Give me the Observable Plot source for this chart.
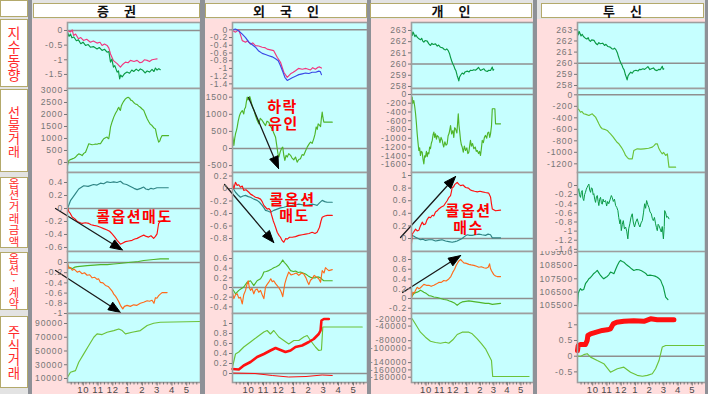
<!DOCTYPE html>
<html><head><meta charset="utf-8">
<script src="https://cdn.jsdelivr.net/npm/d3@7"></script>
<script src="https://cdn.jsdelivr.net/npm/@observablehq/plot@0.6"></script>
<style>
html,body{margin:0;padding:0;background:#e3e3e3;}
#chart{position:relative;width:708px;height:394px;overflow:hidden;background:#e3e3e3;font-family:"Noto Sans CJK KR",sans-serif;}
.abs{position:absolute;box-sizing:border-box;}
.sep{background:#8e9197;}
.hdr{background:#fff;border:1.5px solid #b3a96b;display:flex;align-items:center;justify-content:center;font-weight:700;font-size:13px;color:#111;letter-spacing:6px;padding-left:6px;line-height:1;}
.lbl{background:#fff;border:1.5px solid #b3a96b;color:#ff2a2a;display:flex;flex-direction:column;align-items:center;justify-content:center;}
.lbl p{margin:0;text-align:center;}
.pink{background:#ffdede;}
svg.panel{position:absolute;}
</style></head>
<body><div id="chart"></div>
<script>
// ---------- text ----------
const MONTHS = ["10","11","12","1","2","3","4","5"];
const COLUMN_TITLES = ["증 권","외 국 인","개 인","투 신"];
const ROW_TITLES = ["지수동향","선물거래","옵션거래금액","옵션·계약","주식거래"];

// ---------- tick values ----------
const T_c1r1 = [0,-0.5,-1,-1.5];
const T_c1r2 = [0,500,1000,1500,2000,2500,3000];
const T_c1r3 = [0.4,0.2,0,-0.2,-0.4,-0.6];
const T_c1r4 = [0,-0.2,-0.4,-0.6,-0.8,-1];
const T_c1r5 = [10000,30000,50000,70000,90000];
const T_c2r1 = [0,-0.2,-0.4,-0.6,-0.8,-1,-1.2,-1.4];
const T_c2r2 = [-500,0,500,1000,1500];
const T_c2r3 = [0.2,0,-0.2,-0.4,-0.6,-0.8];
const T_c2r4 = [-0.4,-0.2,0,0.2,0.4,0.6];
const T_c2r5 = [0,0.2,0.4,0.6,0.8,1];
const T_idx = [258,259,260,261,262,263];
const T_c3r2 = [0,-200,-400,-600,-800,-1000,-1200,-1400,-1600];
const T_c3r3 = [0,0.2,0.4,0.6,0.8,1];
const T_c3r4 = [-0.2,0,0.2,0.4,0.6,0.8];
const T_c3r5 = [-20000,-40000,-80000,-100000,-140000,-160000,-180000];
const T_c4r2 = [0,-200,-400,-600,-800,-1000,-1200];
const T_c4r3 = [0,-0.2,-0.4,-0.6,-0.8,-1,-1.2,-1.4];
const T_c4r4 = [105500,106500,107500,108500,109500];
const T_c4r5 = [-0.5,0,0.5,1];

// ---------- series: [month since Sep 1, value] ----------
// 증권
const secIdxPink = [[0,0],[0.2,-0.05],[0.32,0.02],[0.41,-0.17],[0.55,-0.12],[0.74,-0.28],[0.9,-0.24],[1.08,-0.34],[1.3,-0.3],[1.55,-0.4],[1.75,-0.36],[2.0,-0.43],[2.2,-0.4],[2.34,-0.51],[2.5,-0.46],[2.68,-0.51],[2.8,-0.6],[2.91,-0.8],[3.11,-1.03],[3.36,-1.13],[3.58,-1.25],[3.75,-1.15],[3.92,-1.08],[4.1,-1.1],[4.26,-1.02],[4.5,-1.06],[4.71,-1.02],[4.9,-1.1],[5.05,-1.08],[5.2,-1.0],[5.39,-1.02],[5.55,-1.06],[5.72,-1.0],[5.9,-0.98],[6.06,-0.97]];
const secIdxGreen = [[0,-0.05],[0.1,-0.2],[0.2,-0.12],[0.3,-0.25],[0.43,-0.22],[0.6,-0.35],[0.74,-0.32],[0.9,-0.45],[1.05,-0.4],[1.22,-0.51],[1.4,-0.48],[1.55,-0.57],[1.75,-0.55],[2.0,-0.63],[2.15,-0.58],[2.34,-0.68],[2.5,-0.64],[2.68,-0.74],[2.8,-0.72],[2.91,-1.08],[3.0,-0.98],[3.11,-1.25],[3.2,-1.2],[3.36,-1.42],[3.45,-1.38],[3.53,-1.65],[3.6,-1.52],[3.7,-1.58],[3.85,-1.48],[4.03,-1.42],[4.2,-1.46],[4.35,-1.35],[4.48,-1.4],[4.65,-1.32],[4.8,-1.38],[4.93,-1.31],[5.1,-1.36],[5.25,-1.45],[5.39,-1.38],[5.55,-1.42],[5.72,-1.33],[5.85,-1.4],[5.95,-1.28],[6.06,-1.35],[6.18,-1.3],[6.28,-1.34]];
const secFutures = [[0,-125],[0.05,0],[0.09,83],[0.2,120],[0.32,150],[0.43,180],[0.54,220],[0.65,300],[0.76,360],[0.88,330],[0.99,290],[1.1,380],[1.22,430],[1.33,600],[1.44,780],[1.55,760],[1.66,740],[1.78,750],[1.9,770],[2.0,760],[2.12,790],[2.23,780],[2.35,900],[2.45,990],[2.57,1030],[2.68,1060],[2.75,1000],[2.79,990],[2.85,1200],[2.91,1470],[3.02,1700],[3.13,1890],[3.25,2050],[3.36,2170],[3.42,2260],[3.47,2300],[3.53,2200],[3.58,2170],[3.64,2350],[3.7,2440],[3.8,2550],[3.92,2650],[4.0,2690],[4.1,2720],[4.2,2680],[4.28,2600],[4.37,2580],[4.48,2500],[4.59,2440],[4.7,2420],[4.82,2350],[4.93,2300],[5.05,2230],[5.16,2170],[5.27,2000],[5.39,1820],[5.5,1700],[5.6,1600],[5.72,1540],[5.83,1450],[5.95,1400],[6.05,1100],[6.17,850],[6.25,900],[6.3,1000],[6.4,1120],[6.84,1120]];
const secOptTeal = [[0,0],[0.2,0.12],[0.54,0.23],[0.76,0.3],[1.1,0.35],[1.4,0.34],[1.76,0.37],[2.0,0.36],[2.23,0.39],[2.45,0.38],[2.68,0.41],[2.9,0.4],[3.13,0.41],[3.35,0.4],[3.58,0.42],[3.78,0.38],[4.0,0.37],[4.26,0.34],[4.5,0.31],[4.71,0.29],[4.95,0.31],[5.16,0.33],[5.3,0.3],[5.47,0.29],[5.65,0.31],[5.81,0.3],[6.05,0.32],[6.28,0.32],[6.82,0.32]];
const secOptRed = [[0,0.02],[0.09,-0.05],[0.2,-0.08],[0.32,-0.13],[0.5,-0.16],[0.66,-0.2],[0.99,-0.23],[1.2,-0.22],[1.44,-0.23],[1.6,-0.25],[1.78,-0.26],[2.0,-0.27],[2.23,-0.29],[2.45,-0.31],[2.68,-0.33],[2.85,-0.35],[3.02,-0.39],[3.2,-0.44],[3.36,-0.49],[3.58,-0.55],[3.75,-0.53],[3.92,-0.51],[4.15,-0.5],[4.37,-0.49],[4.55,-0.47],[4.71,-0.46],[4.95,-0.43],[5.16,-0.41],[5.33,-0.43],[5.49,-0.44],[5.65,-0.42],[5.83,-0.46],[5.95,-0.43],[6.06,-0.39],[6.12,-0.3],[6.17,-0.23],[6.28,-0.2],[6.51,-0.18],[6.74,-0.2]];
const secCntGreen = [[0,-0.06],[0.15,-0.1],[0.32,-0.12],[0.5,-0.09],[0.66,-0.08],[1.0,-0.07],[1.33,-0.06],[1.8,-0.05],[2.23,-0.04],[2.7,-0.04],[3.13,-0.03],[3.5,-0.02],[3.8,-0.01],[4.1,0.0],[4.48,0.01],[4.8,0.02],[5.16,0.04],[5.5,0.05],[5.83,0.06],[6.28,0.07],[6.84,0.07]];
const secCntOrange = [[0,0],[0.09,-0.12],[0.2,-0.1],[0.32,-0.15],[0.45,-0.13],[0.66,-0.19],[0.8,-0.17],[0.99,-0.22],[1.15,-0.2],[1.33,-0.25],[1.5,-0.24],[1.67,-0.3],[1.85,-0.29],[2.0,-0.33],[2.1,-0.32],[2.23,-0.39],[2.4,-0.4],[2.57,-0.45],[2.75,-0.47],[2.91,-0.52],[3.02,-0.56],[3.13,-0.62],[3.25,-0.66],[3.36,-0.71],[3.47,-0.77],[3.58,-0.84],[3.74,-0.91],[3.85,-0.86],[4.03,-0.84],[4.25,-0.86],[4.48,-0.83],[4.7,-0.84],[4.93,-0.8],[5.15,-0.78],[5.39,-0.75],[5.55,-0.76],[5.72,-0.74],[5.85,-0.8],[5.95,-0.69],[6.05,-0.7],[6.17,-0.65],[6.28,-0.62],[6.4,-0.59],[6.74,-0.59]];
const secStock = [[0,11800],[0.2,19100],[0.54,21500],[0.76,33600],[1.1,45800],[1.44,57900],[1.78,70000],[2.0,74900],[2.34,73900],[2.68,77200],[3.13,79700],[3.47,82100],[3.7,79700],[3.92,74900],[4.37,77200],[4.93,79700],[5.39,87000],[5.83,90400],[6.28,91800],[8.99,92900]];
// 외국인
const forIdxPink = [[0,-0.02],[0.2,-0.06],[0.42,0],[0.55,-0.15],[0.65,-0.28],[0.87,-0.32],[1.0,-0.28],[1.2,-0.37],[1.35,-0.34],[1.53,-0.41],[1.75,-0.42],[1.98,-0.45],[2.15,-0.46],[2.31,-0.5],[2.53,-0.52],[2.75,-0.54],[2.98,-0.71],[3.2,-0.84],[3.42,-1.1],[3.65,-1.23],[3.87,-1.14],[4.05,-1.1],[4.2,-1.06],[4.4,-1.0],[4.65,-1.02],[4.9,-1.0],[5.2,-1.04],[5.35,-0.98],[5.53,-1.02],[5.7,-0.97],[5.8,-0.96],[5.93,-0.99]];
const forIdxBlue = [[0,0],[0.2,0.02],[0.42,-0.03],[0.65,-0.11],[0.87,-0.2],[1.09,-0.32],[1.3,-0.38],[1.53,-0.45],[1.75,-0.55],[1.98,-0.61],[2.2,-0.64],[2.42,-0.67],[2.65,-0.7],[2.87,-0.75],[3.05,-0.8],[3.2,-0.93],[3.35,-1.08],[3.49,-1.23],[3.65,-1.31],[3.8,-1.28],[3.98,-1.24],[4.2,-1.2],[4.42,-1.16],[4.65,-1.14],[4.87,-1.12],[5.1,-1.13],[5.31,-1.1],[5.55,-1.1],[5.75,-1.07],[5.85,-1.08],[5.93,-1.16]];
const forFutures = [[0,380],[0.05,250],[0.09,88],[0.15,300],[0.2,430],[0.26,520],[0.31,620],[0.38,800],[0.47,965],[0.55,1050],[0.65,1110],[0.7,1060],[0.75,1010],[0.8,1150],[0.87,1205],[0.92,1350],[0.98,1500],[1.03,1420],[1.09,1450],[1.15,1520],[1.2,1450],[1.27,1320],[1.35,1205],[1.45,1100],[1.53,965],[1.62,850],[1.75,720],[1.85,880],[1.98,820],[2.08,750],[2.2,670],[2.3,800],[2.42,770],[2.52,650],[2.65,575],[2.75,450],[2.87,330],[2.93,150],[2.98,0],[3.03,-150],[3.09,-250],[3.18,-100],[3.27,0],[3.35,40],[3.42,-200],[3.49,-350],[3.57,-200],[3.65,-250],[3.75,-150],[3.87,-200],[3.97,-280],[4.09,-330],[4.2,-250],[4.31,-400],[4.42,-320],[4.53,-300],[4.64,-180],[4.75,-200],[4.86,-80],[4.98,40],[5.09,120],[5.2,190],[5.31,150],[5.42,290],[5.5,420],[5.58,630],[5.65,560],[5.71,720],[5.8,680],[5.87,640],[5.93,900],[5.98,1065],[6.03,900],[6.09,770],[6.31,770],[6.65,770]];
const forOptRed = [[0,0.08],[0.09,0],[0.2,0.1],[0.31,0.05],[0.42,0.06],[0.53,0.02],[0.65,0.04],[0.75,-0.03],[0.9,-0.02],[1.09,-0.06],[1.2,-0.09],[1.35,-0.11],[1.53,-0.14],[1.7,-0.15],[1.87,-0.17],[1.98,-0.21],[2.09,-0.27],[2.2,-0.3],[2.31,-0.33],[2.42,-0.32],[2.53,-0.35],[2.6,-0.42],[2.65,-0.46],[2.72,-0.52],[2.8,-0.57],[2.9,-0.64],[2.98,-0.7],[3.1,-0.75],[3.2,-0.78],[3.3,-0.83],[3.42,-0.86],[3.55,-0.8],[3.65,-0.81],[3.8,-0.78],[3.98,-0.78],[4.2,-0.77],[4.42,-0.75],[4.65,-0.74],[4.87,-0.73],[5.1,-0.72],[5.31,-0.7],[5.5,-0.72],[5.64,-0.7],[5.72,-0.66],[5.8,-0.62],[5.9,-0.52],[5.98,-0.46],[6.15,-0.44],[6.31,-0.43],[6.65,-0.43]];
const forOptTeal = [[0,0.02],[0.1,-0.02],[0.2,-0.06],[0.35,-0.1],[0.53,-0.14],[0.7,-0.12],[0.87,-0.11],[1.05,-0.13],[1.2,-0.14],[1.42,-0.17],[1.64,-0.19],[1.8,-0.22],[1.98,-0.27],[2.1,-0.31],[2.2,-0.35],[2.35,-0.36],[2.53,-0.38],[2.75,-0.35],[2.98,-0.33],[3.2,-0.31],[3.42,-0.3],[3.7,-0.28],[3.98,-0.27],[4.2,-0.26],[4.42,-0.25],[4.65,-0.26],[4.87,-0.27],[5.1,-0.26],[5.31,-0.25],[5.5,-0.26],[5.64,-0.27],[5.8,-0.23],[5.98,-0.19],[6.15,-0.21],[6.31,-0.22],[6.65,-0.22]];
const forCntGreen = [[0,-0.03],[0.2,-0.13],[0.42,-0.06],[0.6,-0.02],[0.75,0.01],[0.98,0.11],[1.2,0.14],[1.42,0.04],[1.64,0.14],[1.87,0.18],[2.0,0.25],[2.09,0.32],[2.25,0.33],[2.42,0.35],[2.6,0.38],[2.75,0.41],[2.92,0.43],[3.09,0.46],[3.25,0.52],[3.35,0.57],[3.45,0.52],[3.58,0.48],[3.72,0.42],[3.87,0.35],[4.05,0.33],[4.2,0.34],[4.38,0.31],[4.53,0.32],[4.7,0.3],[4.87,0.28],[5.05,0.24],[5.2,0.21],[5.38,0.2],[5.53,0.2],[5.7,0.22],[5.87,0.2],[6.0,0.16],[6.09,0.14],[6.65,0.14]];
const forCntOrange = [[0,-0.1],[0.09,-0.23],[0.2,-0.15],[0.31,-0.13],[0.42,-0.22],[0.53,-0.2],[0.6,-0.28],[0.65,-0.34],[0.75,-0.15],[0.87,-0.06],[0.95,0.05],[1.05,0.14],[1.12,0.0],[1.2,-0.06],[1.3,-0.02],[1.42,-0.13],[1.52,-0.05],[1.64,-0.03],[1.75,-0.1],[1.87,-0.06],[1.98,-0.15],[2.09,-0.23],[2.15,-0.1],[2.2,0.01],[2.3,0.06],[2.42,0.11],[2.55,0.18],[2.65,0.12],[2.75,0.14],[2.87,0.08],[2.98,0.04],[3.08,0.0],[3.2,-0.06],[3.28,-0.12],[3.35,-0.19],[3.42,-0.05],[3.49,0.08],[3.6,0.2],[3.75,0.32],[3.9,0.26],[4.09,0.28],[4.25,0.3],[4.42,0.25],[4.6,0.3],[4.75,0.28],[4.9,0.2],[5.0,0.12],[5.09,0.06],[5.2,0.15],[5.31,0.18],[5.45,0.25],[5.64,0.21],[5.75,0.18],[5.87,0.11],[5.98,0.35],[6.1,0.3],[6.2,0.41],[6.3,0.38],[6.42,0.35],[6.65,0.37]];
const forStockRed = [[0,0.09],[0.42,0.08],[0.75,0.16],[1.2,0.23],[1.64,0.33],[2.09,0.39],[2.53,0.46],[2.87,0.51],[3.2,0.47],[3.53,0.43],[3.87,0.46],[4.2,0.53],[4.64,0.56],[5.09,0.63],[5.42,0.69],[5.75,0.79],[5.87,0.86],[5.93,1.06],[6.09,1.09],[6.42,1.09]];
const forStockGreen = [[0,0.13],[0.2,0.39],[0.42,0.43],[0.75,0.53],[1.2,0.63],[1.64,0.73],[2.09,0.83],[2.31,0.86],[2.53,0.79],[2.75,0.86],[3.09,0.73],[3.42,0.66],[3.75,0.59],[4.09,0.66],[4.42,0.66],[4.75,0.73],[4.98,0.76],[5.2,0.66],[5.53,0.53],[5.75,0.46],[5.93,0.47],[6.02,0.93],[8.65,0.93]];
const forStockThin = [[0,0.01],[1.5,0],[2.65,-0.04],[3.75,-0.07],[4.9,-0.06],[5.98,-0.03],[6.65,-0.04]];
// 개인 / 투신 index
const kospi200 = [[0,263],[0.05,262.55],[0.12,262.85],[0.17,262.7],[0.25,262.45],[0.33,262.6],[0.42,262.4],[0.55,262.25],[0.66,262.17],[0.75,262.3],[0.83,262.05],[0.91,261.96],[1.0,262.1],[1.16,262.05],[1.28,261.8],[1.4,261.66],[1.5,261.85],[1.6,261.75],[1.77,261.8],[1.9,261.6],[2.0,261.7],[2.14,261.5],[2.3,261.45],[2.42,261.3],[2.51,261.27],[2.6,261.35],[2.71,261.2],[2.8,260.95],[2.88,260.6],[2.96,260.3],[3.05,260.0],[3.12,259.85],[3.2,259.57],[3.28,259.4],[3.37,258.96],[3.43,258.75],[3.49,258.5],[3.55,258.85],[3.62,259.0],[3.74,259.2],[3.85,259.1],[3.95,259.3],[4.11,259.37],[4.25,259.3],[4.35,259.45],[4.48,259.43],[4.6,259.5],[4.72,259.45],[4.85,259.58],[4.95,259.7],[5.09,259.43],[5.2,259.5],[5.34,259.58],[5.45,259.4],[5.59,259.34],[5.7,259.45],[5.83,259.43],[5.9,259.6],[5.96,259.73],[6.02,259.45],[6.07,259.5]];
// 개인
const indFutures = [[0,-366],[0.05,-60],[0.1,-200],[0.17,-137],[0.24,-280],[0.3,-440],[0.36,-650],[0.42,-900],[0.48,-1100],[0.54,-1280],[0.6,-1220],[0.66,-1395],[0.72,-1300],[0.79,-1320],[0.85,-1480],[0.91,-1585],[0.97,-1400],[1.03,-1430],[1.1,-1300],[1.16,-1420],[1.22,-1330],[1.28,-1355],[1.34,-1200],[1.4,-1240],[1.46,-1120],[1.53,-1050],[1.59,-920],[1.65,-860],[1.71,-980],[1.77,-900],[1.84,-1020],[1.9,-940],[2.01,-975],[2.1,-1100],[2.18,-980],[2.27,-1050],[2.33,-1150],[2.38,-1200],[2.46,-1080],[2.55,-1160],[2.63,-1130],[2.7,-950],[2.78,-880],[2.88,-710],[2.96,-900],[3.05,-825],[3.12,-980],[3.18,-760],[3.25,-785],[3.35,-880],[3.45,-440],[3.5,-700],[3.56,-860],[3.62,-1050],[3.68,-1150],[3.74,-1200],[3.82,-1320],[3.9,-1180],[3.99,-1280],[4.08,-1220],[4.16,-1350],[4.23,-1320],[4.3,-1150],[4.35,-1050],[4.42,-1180],[4.5,-1120],[4.6,-1240],[4.7,-1200],[4.78,-1300],[4.85,-1280],[4.95,-1350],[5.02,-1300],[5.09,-1395],[5.15,-1250],[5.22,-1050],[5.3,-1100],[5.38,-980],[5.46,-935],[5.55,-1000],[5.62,-880],[5.7,-860],[5.77,-980],[5.83,-900],[5.9,-720],[5.96,-325],[6.15,-325],[6.2,-670],[6.57,-670]];
const indOptRed = [[0,-0.08],[0.05,0.07],[0.15,0.1],[0.3,0.15],[0.42,0.12],[0.54,0.13],[0.66,0.2],[0.79,0.26],[0.9,0.22],[1.03,0.23],[1.15,0.3],[1.28,0.34],[1.4,0.33],[1.53,0.37],[1.65,0.36],[1.77,0.42],[1.9,0.44],[2.01,0.47],[2.2,0.5],[2.38,0.52],[2.5,0.56],[2.63,0.6],[2.75,0.65],[2.88,0.68],[2.95,0.75],[3.0,0.81],[3.1,0.82],[3.2,0.86],[3.37,0.89],[3.5,0.86],[3.62,0.84],[3.8,0.85],[3.99,0.81],[4.2,0.8],[4.35,0.77],[4.48,0.76],[4.65,0.75],[4.85,0.74],[5.05,0.75],[5.24,0.74],[5.45,0.73],[5.7,0.72],[5.83,0.66],[5.9,0.55],[5.96,0.47],[6.2,0.44],[6.57,0.45]];
const indOptTeal = [[0,0.05],[0.15,0.04],[0.3,0.02],[0.5,0.0],[0.66,-0.02],[0.85,-0.01],[1.03,-0.03],[1.28,-0.02],[1.53,-0.02],[1.77,-0.04],[2.01,-0.03],[2.25,-0.02],[2.51,-0.04],[2.75,-0.05],[3.0,-0.06],[3.2,-0.05],[3.37,-0.04],[3.55,-0.02],[3.74,0.0],[3.9,0.03],[4.11,0.06],[4.3,0.05],[4.48,0.05],[4.7,0.06],[4.97,0.07],[5.2,0.06],[5.46,0.05],[5.65,0.07],[5.83,0.06],[5.96,0.01],[6.57,0.01]];
const indCntOrange = [[0,0.0],[0.1,0.13],[0.2,0.11],[0.3,0.17],[0.42,0.23],[0.55,0.2],[0.66,0.22],[0.8,0.26],[0.91,0.29],[1.1,0.27],[1.28,0.27],[1.45,0.25],[1.65,0.27],[1.85,0.3],[2.01,0.33],[2.2,0.33],[2.38,0.37],[2.55,0.36],[2.75,0.4],[2.9,0.45],[3.05,0.54],[3.18,0.6],[3.3,0.68],[3.4,0.73],[3.49,0.77],[3.62,0.8],[3.75,0.76],[3.86,0.73],[4.05,0.72],[4.23,0.7],[4.4,0.69],[4.6,0.68],[4.8,0.66],[4.97,0.64],[5.15,0.65],[5.34,0.63],[5.5,0.62],[5.66,0.64],[5.76,0.71],[5.82,0.62],[5.9,0.57],[6.07,0.49],[6.2,0.46],[6.32,0.45],[6.57,0.45]];
const indCntGreen = [[0,0.03],[0.17,0.1],[0.3,0.12],[0.42,0.13],[0.55,0.15],[0.66,0.17],[0.8,0.15],[0.91,0.13],[1.1,0.1],[1.28,0.06],[1.45,0.05],[1.65,0.03],[1.9,0.02],[2.14,0.0],[2.4,-0.02],[2.63,-0.03],[2.8,-0.05],[3.0,-0.07],[3.2,-0.1],[3.37,-0.14],[3.55,-0.1],[3.74,-0.07],[4.0,-0.06],[4.23,-0.05],[4.48,-0.06],[4.72,-0.07],[5.0,-0.08],[5.22,-0.09],[5.45,-0.1],[5.7,-0.1],[5.96,-0.12],[6.57,-0.1]];
const indStock = [[0.05,-20000],[0.3,-35000],[0.66,-56700],[1.03,-70400],[1.4,-81400],[1.77,-85000],[2.14,-86900],[2.51,-84100],[2.75,-86900],[3.05,-77500],[3.37,-63000],[3.74,-56700],[4.23,-56700],[4.48,-61100],[4.85,-74800],[5.17,-88500],[5.46,-102200],[5.71,-120600],[5.9,-134300],[5.99,-178100],[8.67,-178100]];
// 투신
const invFutures = [[0,-12],[0.02,-243],[0.1,-260],[0.21,-302],[0.3,-290],[0.44,-330],[0.6,-340],[0.8,-360],[0.9,-345],[1.04,-330],[1.15,-360],[1.27,-388],[1.4,-450],[1.5,-504],[1.62,-560],[1.74,-590],[1.9,-600],[2.09,-620],[2.2,-650],[2.32,-678],[2.5,-730],[2.68,-793],[2.8,-830],[2.91,-852],[3.05,-900],[3.15,-939],[3.28,-1000],[3.38,-1055],[3.5,-1090],[3.61,-1113],[3.85,-1113],[3.96,-968],[4.2,-939],[4.45,-945],[4.67,-939],[5.0,-930],[5.26,-910],[5.4,-880],[5.49,-852],[5.61,-852],[5.73,-939],[5.85,-990],[5.96,-1026],[6.05,-1000],[6.2,-1055],[6.32,-1026],[6.43,-1258],[6.9,-1258]];
const invOpt = [[0,-0.18],[0.04,-0.1],[0.09,-0.07],[0.14,-0.2],[0.21,-0.26],[0.27,-0.15],[0.33,-0.11],[0.38,-0.28],[0.44,-0.33],[0.5,-0.2],[0.56,-0.15],[0.62,-0.08],[0.68,-0.04],[0.74,0.0],[0.8,0.03],[0.86,-0.1],[0.92,-0.15],[0.98,-0.05],[1.04,-0.07],[1.1,-0.2],[1.15,-0.18],[1.21,-0.3],[1.27,-0.37],[1.33,-0.25],[1.39,-0.22],[1.45,-0.35],[1.5,-0.44],[1.56,-0.3],[1.62,-0.26],[1.68,-0.38],[1.74,-0.41],[1.8,-0.3],[1.86,-0.36],[1.97,-0.33],[2.05,-0.45],[2.12,-0.35],[2.2,-0.4],[2.3,-0.3],[2.38,-0.22],[2.44,-0.26],[2.52,-0.35],[2.6,-0.3],[2.68,-0.44],[2.76,-0.48],[2.84,-0.55],[2.9,-0.7],[2.98,-0.84],[3.03,-0.75],[3.08,-0.99],[3.15,-0.85],[3.22,-0.77],[3.3,-0.95],[3.38,-0.91],[3.46,-1.0],[3.54,-1.17],[3.6,-0.95],[3.68,-0.84],[3.76,-0.7],[3.85,-0.62],[3.92,-0.8],[4.01,-0.91],[4.1,-0.8],[4.2,-0.73],[4.3,-0.85],[4.39,-0.91],[4.47,-0.82],[4.56,-0.77],[4.64,-0.6],[4.72,-0.4],[4.79,-0.5],[4.86,-0.33],[4.94,-0.42],[5.02,-0.48],[5.1,-0.58],[5.19,-0.62],[5.26,-0.72],[5.33,-0.77],[5.41,-0.7],[5.49,-0.84],[5.55,-0.92],[5.61,-0.99],[5.67,-0.85],[5.73,-0.88],[5.81,-0.95],[5.89,-1.02],[5.96,-0.9],[6.04,-1.17],[6.1,-0.9],[6.13,-0.55],[6.2,-0.6],[6.27,-0.7],[6.35,-0.68],[6.43,-0.73]];
const invCnt = [[0,105380],[0.05,106380],[0.12,106600],[0.21,106760],[0.3,106650],[0.44,106700],[0.56,107130],[0.68,107300],[0.8,107500],[0.92,107600],[1.04,107750],[1.15,107900],[1.27,108000],[1.39,108130],[1.5,107950],[1.62,107750],[1.74,107600],[1.85,107500],[1.97,107600],[2.09,107680],[2.2,107800],[2.32,108000],[2.44,107950],[2.56,107880],[2.68,108200],[2.8,108500],[2.92,108750],[3.03,108880],[3.15,108800],[3.26,108750],[3.45,108550],[3.61,108430],[3.8,108250],[3.96,108130],[4.15,108200],[4.32,108180],[4.5,108100],[4.67,108000],[4.8,107900],[4.91,107750],[5.1,107780],[5.26,107750],[5.45,107700],[5.61,107620],[5.75,107500],[5.85,107380],[5.95,107100],[6.04,106880],[6.12,106500],[6.2,106130],[6.36,105940]];
const invStockRed = [[0,0.18],[0.05,0.34],[0.21,0.37],[0.56,0.37],[0.68,0.5],[0.73,0.66],[0.92,0.71],[1.27,0.76],[1.74,0.82],[2.09,0.84],[2.32,0.87],[2.51,1.03],[2.75,1.08],[3.26,1.11],[3.96,1.13],[4.67,1.11],[5.14,1.19],[5.61,1.16],[6.78,1.16]];
const invStockGreen = [[0,0],[0.21,-0.01],[0.44,0.05],[0.68,0.08],[0.92,-0.03],[1.39,-0.14],[1.85,-0.24],[2.32,-0.51],[2.8,-0.4],[3.26,-0.35],[3.73,-0.51],[4.2,-0.61],[4.56,-0.64],[4.91,-0.61],[5.26,-0.56],[5.49,-0.4],[5.73,-0.14],[5.96,0.29],[6.2,0.34],[8.9,0.34]];

// ---------- annotations (data units of their panel) ----------
const NOTE_c1r3 = [{t:"콜옵션매도", x:4.53, y:-0.14}];
const ARROW_c1r3 = [[-0.81,0,3.72,-0.64]];
const ARROW_c1r4 = [[-0.81,-0.157,3.58,-0.98]];
const NOTE_c2r2 = [{t:"하락", x:3.33, y:1199},{t:"유인", x:3.4, y:702}];
const ARROW_c2r2 = [[1.07,1491,3.07,-585]];
const NOTE_c2r3 = [{t:"콜옵션", x:4.0, y:-0.19},{t:"매도", x:4.13, y:-0.45}];
const ARROW_c2r3 = [[-0.53,0.064,2.75,-0.864]];
const NOTE_c3r3 = [{t:"콜옵션", x:4.21, y:0.43},{t:"매수", x:4.21, y:0.16}];
const ARROW_c3r3 = [[-0.81,0.016,3.25,0.984]];
const ARROW_c3r4 = [[-0.66,0.123,3.62,0.88]];

// ---------- colours ----------
const PINK="#f2367e", GREEN_DK="#0a9a45", GREEN="#4fb52a", GREEN_LT="#6cc23a", TEAL="#2f8585", RED="#ff1010", ORANGE="#ff6a1a", BLUE="#3a48e6";

// ---------- layout ----------
const COLS = [{x0:32,px:67,x1:200,h:[33,200]},{x0:205,px:232,x1:367,h:[205,367]},{x0:371,px:411,x1:533,h:[370,532]},{x0:537,px:577,x1:705,h:[541,704]}];
const ROWS = [[22,88],[88,172],[172,251],[251,313],[313,382]];
// [top, bottom, font size, line height] of the row-title boxes
const LABEL_BOXES = [[19,87,14,14],[89,172,13,13],[177,248,11.5,11.6],[252,310,11.2,11.3],[316,388,13.4,13.5]];

const PANELS = [
 // col 1
 [{dom:[-1.98,0.273],ticks:T_c1r1,ref:0,s:[[secIdxPink,PINK],[secIdxGreen,GREEN_DK]]},
  {dom:[-417,3083],ticks:T_c1r2,ref:0,s:[[secFutures,GREEN]]},
  {dom:[-0.662,0.554],ticks:T_c1r3,ref:0,s:[[secOptTeal,TEAL],[secOptRed,RED]],notes:NOTE_c1r3,arrows:ARROW_c1r3},
  {dom:[-1.0,0.216],ticks:T_c1r4,ref:0,s:[[secCntGreen,GREEN],[secCntOrange,ORANGE]],arrows:ARROW_c1r4},
  {dom:[4180,104545],ticks:T_c1r5,s:[[secStock,GREEN_LT]]}],
 // col 2
 [{dom:[-1.52,0.19],ticks:T_c2r1,ref:0,s:[[forIdxPink,PINK],[forIdxBlue,BLUE]]},
  {dom:[-702,1754],ticks:T_c2r2,ref:0,s:[[forFutures,GREEN]],notes:NOTE_c2r2,arrows:ARROW_c2r2},
  {dom:[-1.008,0.256],ticks:T_c2r3,ref:0,s:[[forOptTeal,TEAL],[forOptRed,RED]],notes:NOTE_c2r3,arrows:ARROW_c2r3},
  {dom:[-0.538,0.745],ticks:T_c2r4,ref:0,s:[[forCntGreen,GREEN],[forCntOrange,ORANGE]]},
  {dom:[-0.18,1.2],ticks:T_c2r5,ref:0,s:[[forStockThin,RED,1],[forStockGreen,GREEN_LT],[forStockRed,RED,2.6]]}],
 // col 3
 [{dom:[257.82,263.71],ticks:T_idx,ref:260,s:[[kospi200,GREEN_DK]]},
  {dom:[-1783,137],ticks:T_c3r2,ref:0,s:[[indFutures,GREEN]]},
  {dom:[-0.206,1.048],ticks:T_c3r3,ref:0,s:[[indOptTeal,TEAL],[indOptRed,RED]],notes:NOTE_c3r3,arrows:ARROW_c3r3},
  {dom:[-0.308,0.964],ticks:T_c3r4,ref:0,s:[[indCntGreen,GREEN],[indCntOrange,ORANGE]],arrows:ARROW_c3r4},
  {dom:[-194500,-5480],ticks:T_c3r5,s:[[indStock,GREEN_LT]]}],
 // col 4
 [{dom:[257.73,263.66],ticks:T_idx,ref:260,s:[[kospi200,GREEN_DK]]},
  {dom:[-1351,110],ticks:T_c4r2,ref:0,s:[[invFutures,GREEN_LT]]},
  {dom:[-1.447,0.285],ticks:T_c4r3,s:[[invOpt,GREEN_DK,1]]},
  {dom:[104890,109553],ticks:T_c4r4,s:[[invCnt,GREEN_DK]],clipTop:true},
  {dom:[-0.838,1.36],ticks:T_c4r5,ref:0,s:[[invStockGreen,GREEN_LT],[invStockRed,RED,5]]}]
];

const chart = document.getElementById("chart");
function div(cls, x, y, w, h, html) {
  const d = document.createElement("div");
  d.className = "abs " + cls;
  Object.assign(d.style, {left:x+"px", top:y+"px", width:w+"px", height:h+"px"});
  if (html !== undefined) d.innerHTML = html;
  chart.appendChild(d);
  return d;
}
// separators & pink backgrounds
[[28,4],[200,5],[367,4],[533,4],[705,3]].forEach(([x,w]) => div("sep", x, 0, w, 394));
COLS.forEach((c, i) => {
  div("pink", c.x0, 19, c.x1 - c.x0, 375);
  div("hdr", c.h[0], 3, c.h[1] - c.h[0], 15, COLUMN_TITLES[i]);
});
div("lbl", 0, 0, 28, 17, "");
ROW_TITLES.forEach((t, i) => {
  const [y0, y1, fs, lh] = LABEL_BOXES[i];
  // one text block per title, one character per line
  const d = div("lbl", 0, y0, 28, y1 - y0, `<p>${[...t].join("<br>")}</p>`);
  d.style.fontSize = fs + "px";
  d.style.lineHeight = lh + "px";
});

const xy = {x: d => d[0], y: d => d[1]};
function arrowMarks(a, xs, ys) {
  const x1 = xs(a[0]), y1 = ys(a[1]), x2 = xs(a[2]), y2 = ys(a[3]);
  const L = Math.hypot(x2 - x1, y2 - y1), ux = (x2 - x1) / L, uy = (y2 - y1) / L;
  const bx = x2 - ux * 12, by = y2 - uy * 12, hw = 4.5;
  const tri = [[x2, y2], [bx - uy * hw, by + ux * hw], [bx + uy * hw, by - ux * hw], [x2, y2]]
    .map(([px, py]) => [xs.invert(px), ys.invert(py)]);
  return [
    Plot.line([[a[0], a[1]], [xs.invert(bx), ys.invert(by)]], {...xy, stroke: "#1a1a1a", strokeWidth: 1.3}),
    Plot.line(tri, {...xy, fill: "#000", stroke: "#000", strokeWidth: 1})
  ];
}

PANELS.forEach((colPanels, ci) => {
  const c = COLS[ci];
  colPanels.forEach((p, ri) => {
    const last = ri === 4;
    const [top, bottom] = ROWS[ri];
    const W = c.x1 - c.x0, ML = c.px - c.x0, MB = last ? 12 : 0, H = bottom - top + MB;
    const xs = d3.scaleLinear([0, 9], [ML, W]);
    const ys = d3.scaleLinear(p.dom, [H - MB, 0]);
    const marks = [Plot.frame({fill: "#c6ffff", stroke: "none"})];
    if (p.ref !== undefined) marks.push(Plot.ruleY([p.ref], {stroke: "#8f8f8f", strokeWidth: 1.5}));
    p.s.forEach(([data, color, w]) => marks.push(Plot.line(data, {...xy, stroke: color, strokeWidth: w || 1.15})));
    (p.arrows || []).forEach(a => marks.push(...arrowMarks(a, xs, ys)));
    (p.notes || []).forEach(n => marks.push(Plot.text([n], {x: "x", y: "y", text: "t", fill: "#ff0000", fontSize: 15, fontWeight: "bold", fontFamily: "Noto Sans CJK KR"})));
    marks.push(Plot.frame({stroke: "#9e9e9e", strokeWidth: 1.6}));
    marks.push(Plot.axisY(p.ticks, {tickSize: 3, tickPadding: 1.5, tickFormat: d => String(d), fontSize: 8.6, label: null}));
    if (last) {
      marks.push(Plot.axisX(d3.range(0.25, 9, 0.25), {tickSize: 2.5, tickFormat: () => "", label: null}));
      marks.push(Plot.axisX(d3.range(1, 9), {tickSize: 3.5, tickPadding: 0, tickFormat: d => MONTHS[d - 1], fontSize: 9.5, dx: 1, label: null, fill: "#4a4a4a"}));
    }
    const svg = Plot.plot({
      width: W, height: H,
      marginLeft: ML, marginRight: 0, marginTop: 0, marginBottom: MB,
      x: {domain: [0, 9], axis: last ? undefined : null},
      y: {domain: p.dom},
      style: {background: "transparent", color: "#767676", fontFamily: "Liberation Sans", fontSize: "10px", overflow: "visible", letterSpacing: "0.8px"},
      marks
    });
    svg.classList.add("panel");
    svg.style.position = "absolute";
    svg.style.left = c.x0 + "px";
    svg.style.top = top + "px";
    svg.style.clipPath = p.clipTop ? "inset(0px 0px -6px 0px)" : "inset(-6px 0px -6px 0px)";
    svg.querySelectorAll('[aria-label="text"] text').forEach(t => t.setAttribute("letter-spacing", "1.5"));
    chart.appendChild(svg);
  });
});
</script></body></html>
